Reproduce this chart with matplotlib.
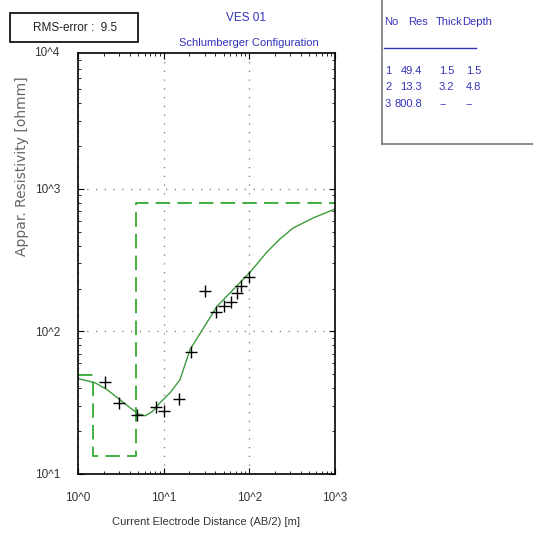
import matplotlib
matplotlib.use('Agg')
from matplotlib import pyplot as plt
from matplotlib.patches import Rectangle
from matplotlib.lines import Line2D

plt.rcParams['font.family'] = ['Liberation Sans', 'DejaVu Sans']

# measured sounding points (AB/2 [m], apparent resistivity [ohmm])
ab2 = [2.07, 3.0, 4.9, 8.1, 10.0, 15.0, 21.0, 30.0, 41.0, 50.0, 61.0, 72.0, 81.0, 100.0]
rho_obs = [44.5, 31.6, 26.0, 29.7, 27.6, 33.7, 72.0, 191.0, 138.0, 152.0, 160.0, 185.0, 208.0, 240.0]

# calculated curve
ab2_calc = [1.0, 1.58, 2.18, 3.09, 4.04, 5.0, 6.05, 7.3, 9.05, 11.9, 15.5, 20.3, 41.9,
            101.6, 160.0, 227.0, 323.0, 552.0, 1000.0]
rho_calc = [46.7, 43.7, 39.1, 33.2, 29.2, 26.5, 25.6, 27.3, 31.6, 37.2, 45.9, 74.6, 150.0,
            260.0, 360.0, 445.0, 531.0, 625.0, 723.0]

# layered model
layer_no = [1, 2, 3]
layer_res = [49.4, 13.3, 800.8]
layer_thick = [1.5, 3.2, None]
layer_depth = [1.5, 4.8, None]
rms_error = 9.5

xticks = [1, 10, 100, 1000]
xtick_labels = ['10^0', '10^1', '10^2', '10^3']
yticks = [10, 100, 1000]
ytick_labels = ['10^1', '10^2', '10^3']

W, H = 533, 537
fig = plt.figure(figsize=(W / 100, H / 100), dpi=100)
ax = fig.add_axes([78 / W, 1 - 474 / H, (335 - 78) / W, (474 - 53) / H])
ax.set_xscale('log')
ax.set_yscale('log')
ax.set_xlim(1, 1000)
ax.set_ylim(10, 10 ** 3.954)

# step model
mx, my = [1.0], [layer_res[0]]
for i in range(len(layer_depth)):
    if layer_depth[i] is None:
        break
    mx += [layer_depth[i], layer_depth[i]]
    my += [layer_res[i], layer_res[i + 1]]
mx.append(1000.0)
my.append(layer_res[-1])
ax.plot(mx, my, color='#33aa33', lw=1.3, dashes=(8, 4))

ax.plot(ab2_calc, rho_calc, color='#3c9c3c', lw=1.0)
ax.plot(ab2, rho_obs, ls='none', marker='+', ms=8, mew=1.0, color='black')

ax.set_xticks(xticks)
ax.set_xticklabels(xtick_labels)
ax.set_yticks(yticks)
ax.set_yticklabels(ytick_labels)
ax.grid(which='major', ls=(0, (1, 6)), color='#777777', lw=0.9)
ax.tick_params(which='both', direction='in', top=True, right=True, labelsize=8.5,
               colors='black', labelcolor='#333333')
ax.tick_params(which='major', length=4)
ax.tick_params(which='minor', length=2)
ax.tick_params(axis='x', pad=13)
ax.tick_params(axis='y', pad=13)
for s in ax.spines.values():
    s.set_linewidth(1.2)

ax.text(-0.12, 1.0, '10^4', transform=ax.transAxes, ha='center', va='center',
        fontsize=8.5, color='#333333')

fig.text(206 / W, 1 - 522 / H, 'Current Electrode Distance (AB/2) [m]', ha='center',
         va='center', fontsize=8, color='#333333')
fig.text(22 / W, 1 - 166 / H, 'Appar. Resistivity [ohmm]', rotation=90, ha='center',
         va='center', fontsize=10, color='#666666', family='DejaVu Sans')

# RMS box
fig.patches.append(Rectangle((10 / W, 1 - 42 / H), 128 / W, 29 / H, transform=fig.transFigure,
                             facecolor='white', edgecolor='black', lw=1.2, zorder=5))
fig.text(75 / W, 1 - 28 / H, 'RMS-error :  %.1f' % rms_error, ha='center', va='center',
         fontsize=8.5, color='#222222', zorder=6)

blue = '#3333bb'
fig.text(246 / W, 1 - 18 / H, 'VES 01', ha='center', va='center', fontsize=8.5, color=blue)
fig.text(249 / W, 1 - 43 / H, 'Schlumberger Configuration', ha='center', va='center',
         fontsize=8, color=blue)

# model table
fig.lines.append(Line2D([382 / W, 382 / W], [1.0, 1 - 144 / H], transform=fig.transFigure,
                        color='#777777', lw=1.2))
fig.lines.append(Line2D([382 / W, 1.0], [1 - 144 / H, 1 - 144 / H], transform=fig.transFigure,
                        color='#777777', lw=1.2))
fig.lines.append(Line2D([384 / W, 476 / W], [1 - 48 / H, 1 - 48 / H], transform=fig.transFigure,
                        color=blue, lw=1.0))
hy = 1 - 22 / H
for txt, x in zip(['No', 'Res', 'Thick', 'Depth'], [384, 408, 436, 462]):
    fig.text(x / W, hy, txt, ha='left', va='center', fontsize=8, color=blue)
for i, n in enumerate(layer_no):
    y = 1 - (71 + 16.5 * i) / H
    fig.text(385 / W, y, str(n), ha='left', va='center', fontsize=8, color=blue)
    fig.text(422 / W, y, '%.1f' % layer_res[i], ha='right', va='center', fontsize=8, color=blue)
    th = '--' if layer_thick[i] is None else '%.1f' % layer_thick[i]
    dp = '--' if layer_depth[i] is None else '%.1f' % layer_depth[i]
    fig.text(439 / W, y, th, ha='left', va='center', fontsize=8, color=blue)
    fig.text(466 / W, y, dp, ha='left', va='center', fontsize=8, color=blue)

fig.savefig('out.png', dpi=100)
